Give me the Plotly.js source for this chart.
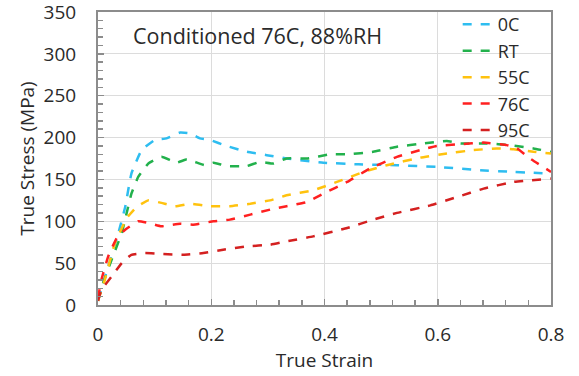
<!DOCTYPE html>
<html>
<head>
<meta charset="utf-8">
<script src="https://cdn.plot.ly/plotly-3.0.1.min.js"></script>
<style>html,body{margin:0;padding:0;background:#fff;}#chart{width:579px;height:376px;}</style>
</head>
<body>
<div id="chart"></div>
<script>
const seriesNames = ["0C", "RT", "55C", "76C", "95C"];
const seriesColors = ["#2ebdf0", "#22b14c", "#ffc20e", "#ff2020", "#d42020"];

const strain0C  = [0, 0.018, 0.036, 0.048, 0.059, 0.077, 0.1, 0.121, 0.145, 0.163, 0.18, 0.198, 0.227, 0.263, 0.298, 0.333, 0.398, 0.46, 0.528, 0.598, 0.675, 0.734, 0.8];
const stress0C  = [6, 46, 86, 117, 157, 185, 197, 199, 206, 205, 199, 197, 190, 183, 179, 175, 170, 168, 167, 165, 161, 159, 157];

const strainRT  = [0, 0.009, 0.024, 0.042, 0.059, 0.071, 0.089, 0.112, 0.139, 0.157, 0.189, 0.204, 0.227, 0.263, 0.286, 0.31, 0.333, 0.369, 0.41, 0.44, 0.486, 0.528, 0.575, 0.616, 0.64, 0.687, 0.728, 0.769, 0.8];
const stressRT  = [5, 26, 54, 86, 133, 153, 169, 177, 170, 174, 167, 170, 166, 166, 171, 169, 175, 175, 180, 180, 183, 189, 193, 196, 193, 193, 191, 187, 183];

const strain55C = [0, 0.012, 0.03, 0.051, 0.068, 0.089, 0.112, 0.136, 0.163, 0.198, 0.233, 0.269, 0.304, 0.333, 0.38, 0.422, 0.469, 0.51, 0.569, 0.616, 0.663, 0.704, 0.734, 0.769, 0.8];
const stress55C = [5, 30, 74, 104, 117, 125, 122, 118, 121, 118, 118, 121, 125, 131, 137, 147, 159, 167, 176, 181, 185, 187, 186, 183, 181];

const strain76C = [0, 0.006, 0.018, 0.033, 0.048, 0.071, 0.089, 0.112, 0.145, 0.168, 0.204, 0.233, 0.269, 0.304, 0.333, 0.369, 0.398, 0.44, 0.48, 0.528, 0.569, 0.598, 0.64, 0.681, 0.722, 0.74, 0.763, 0.8];
const stress76C = [8, 30, 58, 80, 90, 100, 98, 94, 97, 96, 100, 102, 108, 114, 118, 123, 133, 147, 163, 177, 185, 190, 192, 194, 191, 187, 175, 159];

const strain95C = [0, 0.006, 0.024, 0.042, 0.059, 0.083, 0.112, 0.151, 0.186, 0.221, 0.263, 0.304, 0.333, 0.38, 0.44, 0.486, 0.528, 0.587, 0.634, 0.681, 0.734, 0.8];
const stress95C = [5, 18, 34, 50, 60, 62, 61, 60, 62, 66, 70, 72, 76, 82, 92, 102, 110, 119, 129, 139, 147, 151];

const xTickVals = [0, 0.2, 0.4, 0.6, 0.8];
const xTickText = ["0", "0.2", "0.4", "0.6", "0.8"];
const yTickVals = [0, 50, 100, 150, 200, 250, 300, 350];

const xs = [strain0C, strainRT, strain55C, strain76C, strain95C];
const ys = [stress0C, stressRT, stress55C, stress76C, stress95C];

const FONT = "'Open Sans', Lato, sans-serif";
const TXT = "#2a2a2a";

const traces = seriesNames.map((n, i) => ({
  x: xs[i], y: ys[i], name: n, type: "scatter", mode: "lines",
  line: {color: seriesColors[i], width: 2.5, dash: "dash", shape: "spline", smoothing: 0.35}
}));

const layout = {
  width: 579, height: 376,
  margin: {l: 98, r: 28, t: 12, b: 71, autoexpand: false},
  paper_bgcolor: "#fff", plot_bgcolor: "#fff",
  font: {family: FONT, size: 19, color: TXT},
  showlegend: true,
  legend: {x: 0.794, y: 1.02, xanchor: "left", yanchor: "top", bgcolor: "rgba(255,255,255,0)",
           font: {family: FONT, size: 18, color: TXT}, tracegroupgap: 0, itemwidth: 30},
  xaxis: {
    range: [0, 0.8], tickvals: xTickVals, ticktext: xTickText,
    showgrid: true, gridcolor: "#dcdcdc", gridwidth: 1,
    showline: true, linecolor: "#8c8c8c", linewidth: 2, mirror: true,
    ticks: "inside", ticklen: 6, tickcolor: "#8c8c8c", tickwidth: 1.5,
    minor: {dtick: 0.04, ticks: "inside", ticklen: 5, tickcolor: "#8c8c8c", showgrid: false},
    zeroline: false, ticklabelstandoff: 11, ticklabeloverflow: "allow",
    tickfont: {family: FONT, size: 19, color: TXT},
    title: {text: "True Strain", font: {family: FONT, size: 19, color: TXT}, standoff: 8}
  },
  yaxis: {
    range: [0, 350], tickvals: yTickVals,
    showgrid: true, gridcolor: "#dcdcdc", gridwidth: 1,
    showline: true, linecolor: "#8c8c8c", linewidth: 2, mirror: true,
    ticks: "inside", ticklen: 6, tickcolor: "#8c8c8c", tickwidth: 1.5,
    minor: {dtick: 10, ticks: "inside", ticklen: 5, tickcolor: "#8c8c8c", showgrid: false},
    zeroline: false, ticklabelstandoff: 16, ticklabeloverflow: "allow",
    tickfont: {family: FONT, size: 19, color: TXT},
    title: {text: "True Stress (MPa)", font: {family: FONT, size: 19, color: TXT}, standoff: 4}
  },
  annotations: [{
    text: "Conditioned 76C, 88%RH", xref: "paper", yref: "paper",
    x: 0.073, y: 0.92, xanchor: "left", yanchor: "middle", showarrow: false,
    font: {family: FONT, size: 21.5, color: TXT}
  }]
};

Plotly.newPlot("chart", traces, layout, {displayModeBar: false, staticPlot: true});
</script>
</body>
</html>
